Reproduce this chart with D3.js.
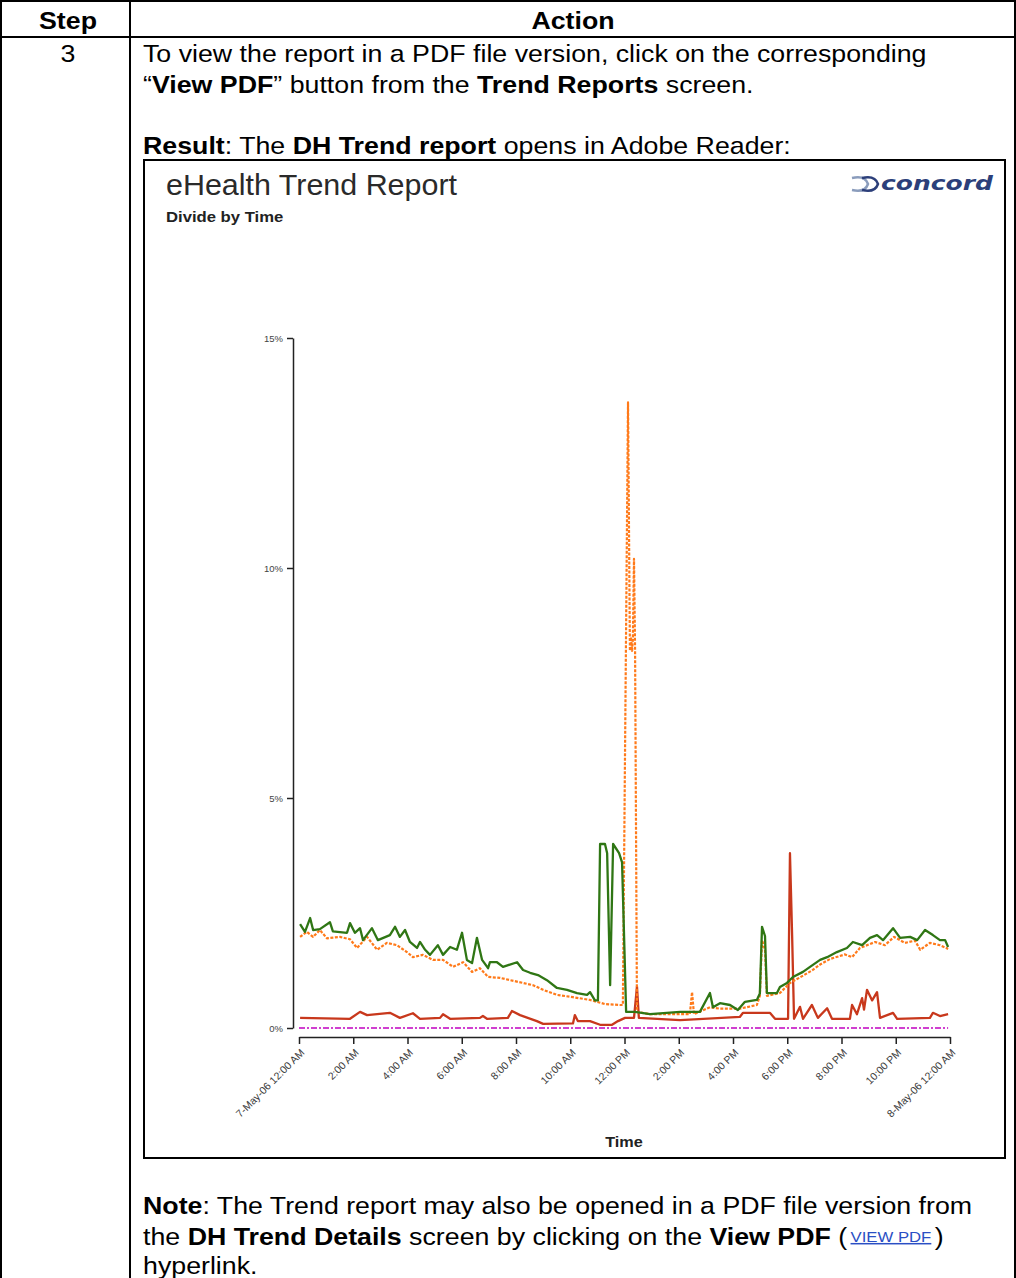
<!DOCTYPE html>
<html lang="en">
<head>
<meta charset="UTF-8">
<title>eHealth Trend Report</title>
<script src="https://cdnjs.cloudflare.com/ajax/libs/d3/7.8.4/d3.min.js"></script>
<style>
  body { margin: 0; background: #fff; }
  svg { display: block; font-family: "Liberation Sans", Arial, sans-serif; }
</style>
</head>
<body>
<svg width="1016" height="1278"></svg>
<script>
// ---- data (hours since 7-May-06 12:00 AM, percent) ----
const xTickHours = [0, 2, 4, 6, 8, 10, 12, 14, 16, 18, 20, 22, 24];
const xTickLabels = ["7-May-06 12:00 AM", "2:00 AM", "4:00 AM", "6:00 AM", "8:00 AM", "10:00 AM",
  "12:00 PM", "2:00 PM", "4:00 PM", "6:00 PM", "8:00 PM", "10:00 PM", "8-May-06 12:00 AM"];
const yTicks = [0, 5, 10, 15];

const greenSeries = [
  [0.04,2.26],[0.22,2.09],[0.41,2.39],[0.52,2.13],[0.77,2.15],[1.14,2.30],[1.25,2.10],[1.77,2.07],
  [1.88,2.28],[2.06,2.07],[2.25,2.17],[2.36,1.91],[2.69,2.17],[2.91,1.91],[3.35,2.02],[3.54,2.20],
  [3.72,1.98],[3.91,2.13],[4.09,1.87],[4.35,1.74],[4.46,1.87],[4.65,1.70],[4.83,1.59],[5.12,1.80],
  [5.31,1.59],[5.57,1.76],[5.82,1.70],[6.01,2.07],[6.19,1.48],[6.38,1.41],[6.56,1.96],[6.75,1.48],
  [6.97,1.30],[7.04,1.43],[7.30,1.43],[7.52,1.33],[8.04,1.43],[8.26,1.26],[8.52,1.20],[8.81,1.15],
  [9.14,1.04],[9.51,0.87],[9.88,0.83],[10.25,0.76],[10.62,0.72],[10.73,0.78],[10.91,0.60],[11.02,0.60],
  [11.10,4.0],[11.28,4.0],[11.36,3.8],[11.47,0.93],[11.58,4.0],[11.80,3.8],[11.91,3.6],[12.06,0.35],
  [12.39,0.35],[12.94,0.30],[14.05,0.35],[14.78,0.35],[15.15,0.76],[15.26,0.45],[15.52,0.54],[15.89,0.50],
  [16.18,0.39],[16.44,0.57],[16.88,0.61],[16.99,0.75],[17.07,2.20],[17.18,2.00],[17.25,0.76],[17.62,0.76],
  [17.73,0.89],[17.99,0.98],[18.21,1.11],[18.58,1.22],[18.84,1.33],[19.21,1.48],[19.47,1.54],[19.83,1.65],
  [20.20,1.74],[20.42,1.87],[20.76,1.80],[21.05,1.96],[21.31,2.02],[21.53,1.91],[21.90,2.17],[22.16,1.96],
  [22.53,1.98],[22.79,1.91],[23.08,2.13],[23.37,2.02],[23.63,1.91],[23.82,1.91],[23.93,1.76]
];

const orangeSeries = [
  [0.04,1.98],[0.29,2.09],[0.52,1.98],[0.77,2.13],[1.03,1.95],[1.51,1.98],[1.88,1.93],[2.14,1.74],
  [2.51,1.98],[2.88,1.70],[3.24,1.85],[3.61,1.80],[3.98,1.65],[4.20,1.54],[4.57,1.59],[4.94,1.48],
  [5.31,1.48],[5.68,1.33],[6.05,1.43],[6.38,1.22],[6.67,1.30],[6.97,1.11],[7.41,1.09],[7.78,1.04],
  [8.26,0.98],[8.63,0.93],[9.00,0.83],[9.51,0.72],[10.10,0.67],[10.73,0.61],[11.28,0.52],[11.83,0.50],
  [11.94,0.50],[12.13,13.6],[12.20,8.2],[12.24,8.5],[12.28,8.2],[12.31,8.5],[12.35,10.2],[12.39,8.2],
  [12.46,0.35],[12.94,0.30],[14.05,0.30],[14.41,0.30],[14.49,0.78],[14.56,0.30],[15.15,0.45],[15.52,0.42],
  [16.25,0.42],[16.88,0.50],[16.99,0.70],[17.07,1.91],[17.18,1.70],[17.25,0.70],[17.73,0.76],[18.10,0.98],
  [18.47,1.10],[18.91,1.25],[19.21,1.38],[19.58,1.50],[20.13,1.60],[20.39,1.54],[20.68,1.74],[21.24,1.87],
  [21.60,1.80],[21.94,1.98],[22.34,1.85],[22.71,1.90],[22.90,1.70],[23.26,1.85],[23.63,1.80],[23.93,1.72]
];

const redSeries = [
  [0.04,0.22],[1.88,0.20],[2.25,0.35],[2.51,0.28],[2.88,0.30],[3.35,0.33],[3.72,0.22],[4.20,0.32],
  [4.46,0.20],[5.20,0.22],[5.31,0.30],[5.57,0.20],[6.67,0.22],[6.78,0.26],[6.93,0.20],[7.70,0.22],
  [7.85,0.37],[8.15,0.28],[8.77,0.15],[9.00,0.09],[10.10,0.10],[10.17,0.28],[10.28,0.15],[10.73,0.15],
  [11.10,0.07],[11.54,0.07],[11.76,0.15],[12.02,0.22],[12.35,0.22],[12.46,0.90],[12.53,0.22],[14.05,0.17],
  [16.25,0.24],[16.37,0.33],[17.36,0.33],[17.55,0.20],[18.03,0.20],[18.10,3.80],[18.18,2.00],[18.25,0.20],
  [18.47,0.46],[18.58,0.20],[18.91,0.50],[19.13,0.22],[19.47,0.43],[19.65,0.20],[20.31,0.20],[20.39,0.50],
  [20.57,0.30],[20.76,0.65],[20.83,0.40],[20.94,0.83],[21.13,0.60],[21.31,0.78],[21.42,0.22],[21.90,0.33],
  [22.05,0.20],[23.26,0.22],[23.37,0.33],[23.63,0.26],[23.93,0.30]
];

const magentaSeries = [[0, 0], [23.93, 0]];

const svg = d3.select("svg");
const font = "'Liberation Sans', Arial, sans-serif";
const SX = 1.115; // the document text is slightly wider than plain Arial

// ---- document table ----
const table = svg.append("g").attr("stroke", "#000").attr("stroke-width", 2);
table.append("line").attr("x1", 0).attr("x2", 1016).attr("y1", 1).attr("y2", 1);
table.append("line").attr("x1", 0).attr("x2", 1016).attr("y1", 37).attr("y2", 37);
table.append("line").attr("x1", 1).attr("x2", 1).attr("y1", 0).attr("y2", 1278);
table.append("line").attr("x1", 1015).attr("x2", 1015).attr("y1", 0).attr("y2", 1278);
table.append("line").attr("x1", 130).attr("x2", 130).attr("y1", 0).attr("y2", 1278);

function addText(x, y, parts, opts = {}) {
  const t = svg.append("text")
    .attr("transform", `translate(${x},${y}) scale(${opts.sx || SX},1)`)
    .attr("font-size", opts.size || 24).attr("fill", opts.fill || "#000")
    .attr("text-anchor", opts.anchor || "start");
  parts.forEach(p => {
    const s = typeof p === "string" ? { t: p } : p;
    t.append("tspan").text(s.t).attr("font-weight", s.b ? "bold" : "normal");
  });
  return t;
}

addText(68, 29, [{ t: "Step", b: true }], { anchor: "middle" });
addText(573, 29, [{ t: "Action", b: true }], { anchor: "middle" });
addText(68, 62, ["3"], { anchor: "middle" });
addText(143, 62, ["To view the report in a PDF file version, click on the corresponding"]);
addText(143, 93, ["\u201c", { t: "View PDF", b: true }, "\u201d button from the ", { t: "Trend Reports", b: true }, " screen."]);
addText(143, 154, [{ t: "Result", b: true }, ":  The ", { t: "DH Trend report", b: true }, " opens in Adobe Reader:"]);

addText(143, 1214, [{ t: "Note", b: true }, ":  The Trend report may also be opened in a PDF file version from"]);
const n2 = addText(143, 1245, ["the ", { t: "DH Trend Details", b: true }, " screen by clicking on the ", { t: "View PDF", b: true }, " ("]);
n2.append("tspan").text("VIEW PDF").attr("font-size", 15).attr("fill", "#2a4fc4")
  .attr("text-decoration", "underline").attr("dx", 3).attr("dy", -3);
n2.append("tspan").text(")").attr("dx", 3).attr("dy", 3);
addText(143, 1274, ["hyperlink."]);

// ---- embedded report ----
svg.append("rect").attr("x", 144).attr("y", 160).attr("width", 861).attr("height", 998)
  .attr("fill", "#fff").attr("stroke", "#000").attr("stroke-width", 2);

addText(166, 195, ["eHealth Trend Report"], { size: 29, sx: 1.05, fill: "#2a2a2a" });
addText(166, 222, [{ t: "Divide by Time", b: true }], { size: 14.5, sx: 1.15, fill: "#222" });

// concord logo
const logo = svg.append("g").attr("transform", "translate(851,184)");
logo.append("path").attr("d", "M1,-6 Q14,-9 17,0 Q14,9 1,6").attr("fill", "none")
  .attr("stroke", "#8a9cbc").attr("stroke-width", 2.5);
logo.append("path").attr("d", "M11,-6 Q24,-9 27,0 Q24,9 11,6").attr("fill", "none")
  .attr("stroke", "#2c3f7a").attr("stroke-width", 2.5);
logo.append("text").attr("x", 30).attr("y", 6).attr("font-size", 19).attr("font-weight", "bold")
  .attr("font-style", "italic").attr("font-family", "'DejaVu Sans', sans-serif")
  .attr("fill", "#2c3f7a").attr("textLength", 112).attr("lengthAdjust", "spacingAndGlyphs")
  .text("concord");

// scales
const x = d3.scaleLinear().domain([0, 24]).range([299, 950]);
const y = d3.scaleLinear().domain([0, 15]).range([1028, 338]);

const yAxis = svg.append("g").attr("transform", "translate(293,0)")
  .call(d3.axisLeft(y).tickValues(yTicks).tickSize(6).tickSizeOuter(0).tickFormat(d => d + "%"));
yAxis.selectAll("path, line").attr("stroke", "#222").attr("stroke-width", 1.5);
yAxis.selectAll("text").attr("font-size", 9.5).attr("font-family", font).attr("fill", "#444")
  .attr("x", -10);

const xAxis = svg.append("g").attr("transform", "translate(0,1037)")
  .call(d3.axisBottom(x).tickValues(xTickHours).tickSize(7).tickSizeOuter(0)
    .tickFormat((d, i) => xTickLabels[i]));
xAxis.selectAll("path, line").attr("stroke", "#222").attr("stroke-width", 1.5);
xAxis.selectAll("text").attr("font-size", 10.5).attr("font-family", font).attr("fill", "#3a3a3a")
  .attr("text-anchor", "end").attr("x", -7.5).attr("y", 15.5).attr("dx", 0).attr("dy", 0)
  .attr("transform", "rotate(-45)");

addText(624, 1147, [{ t: "Time", b: true }], { size: 14.5, sx: 1.12, anchor: "middle", fill: "#222" });

// lines
const line = d3.line().x(d => x(d[0])).y(d => y(d[1]));
const series = [
  { data: magentaSeries, color: "#d040d0", dash: "6,2,2,2", w: 2 },
  { data: redSeries, color: "#c8381c", dash: null, w: 2.3 },
  { data: orangeSeries, color: "#ff7a1a", dash: "3,1.5", w: 2.2 },
  { data: greenSeries, color: "#2f7614", dash: null, w: 2.3 }
];
svg.append("g").selectAll("path").data(series).enter().append("path")
  .attr("d", d => line(d.data)).attr("fill", "none")
  .attr("stroke", d => d.color).attr("stroke-width", d => d.w)
  .attr("stroke-dasharray", d => d.dash).attr("stroke-linejoin", "round");
</script>
</body>
</html>
